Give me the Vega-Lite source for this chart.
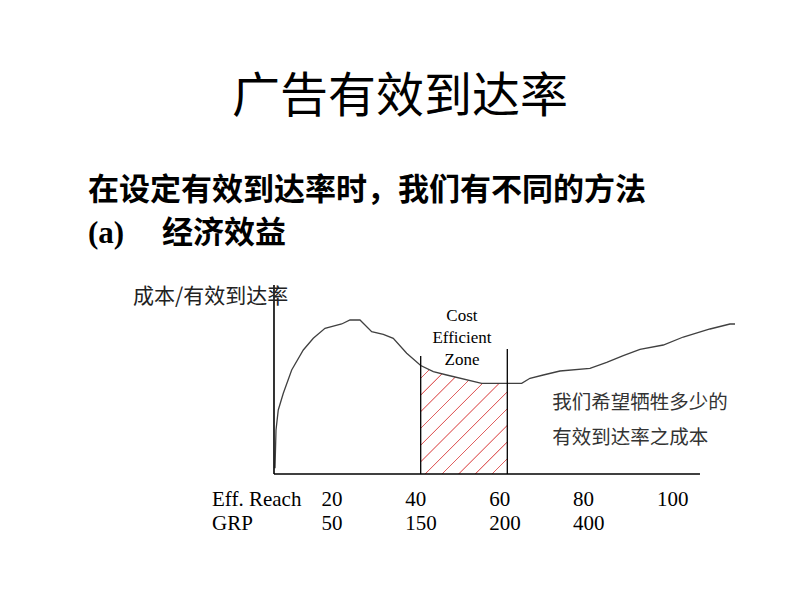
{
  "$schema": "https://vega.github.io/schema/vega-lite/v6.json",
  "width": 800,
  "height": 600,
  "autosize": "none",
  "padding": 0,
  "background": "white",
  "config": {"view": {"stroke": null}},
  "datasets": {
    "curve": [
      {"reach": 8.92, "cost": 3.8},
      {"reach": 9.16, "cost": 29.33},
      {"reach": 9.70, "cost": 42.67},
      {"reach": 10.90, "cost": 53.8},
      {"reach": 12.90, "cost": 69.33},
      {"reach": 15.67, "cost": 82.67},
      {"reach": 18.05, "cost": 90.47},
      {"reach": 20.84, "cost": 97.13},
      {"reach": 24.82, "cost": 100},
      {"reach": 26.80, "cost": 102.67},
      {"reach": 29.18, "cost": 102.67},
      {"reach": 31.97, "cost": 94.87},
      {"reach": 34.74, "cost": 93.13},
      {"reach": 37.12, "cost": 90.47},
      {"reach": 40.32, "cost": 80.47},
      {"reach": 43.66, "cost": 72.33},
      {"reach": 46.67, "cost": 68.2},
      {"reach": 49.86, "cost": 66},
      {"reach": 58.20, "cost": 60.47},
      {"reach": 64.31, "cost": 60.47},
      {"reach": 67.74, "cost": 60.47},
      {"reach": 69.72, "cost": 63.8},
      {"reach": 72.89, "cost": 66},
      {"reach": 76.87, "cost": 68.67},
      {"reach": 84.02, "cost": 70.47},
      {"reach": 88.01, "cost": 74.47},
      {"reach": 91.96, "cost": 78.87},
      {"reach": 95.95, "cost": 83.13},
      {"reach": 101.50, "cost": 86},
      {"reach": 106.27, "cost": 91.33},
      {"reach": 112.64, "cost": 96.67},
      {"reach": 117.4, "cost": 100},
      {"reach": 118.6, "cost": 100}
    ],
    "zone": [
      {"reach": 43.66, "base": 0, "top": 78.67},
      {"reach": 64.31, "base": 0, "top": 83.33}
    ],
    "frame": [
      {"reach": 8.68, "reach2": 110.25, "cost": 0, "cost2": 0},
      {"reach": 8.68, "reach2": 8.68, "cost": 0, "cost2": 126}
    ],
    "ticks": [
      {"reach": 20, "grp": 50},
      {"reach": 40, "grp": 150},
      {"reach": 60, "grp": 200},
      {"reach": 80, "grp": 400},
      {"reach": 100}
    ]
  },
  "layer": [
    {
      "data": {"name": "curve"},
      "transform": [{"filter": "datum.reach >= 43.6 && datum.reach <= 64.4"}],
      "mark": {
        "type": "area",
        "interpolate": "linear",
        "fill": {
          "gradient": "linear",
          "x1": 0, "y1": 0, "x2": 0.8767, "y2": 1.0984,
          "stops": [
            {"offset": 0, "color": "white"},
            {"offset": 0.0611, "color": "white"}, {"offset": 0.0641, "color": "#e06060"}, {"offset": 0.0671, "color": "#e06060"}, {"offset": 0.0701, "color": "white"},
            {"offset": 0.1467, "color": "white"}, {"offset": 0.1497, "color": "#e06060"}, {"offset": 0.1527, "color": "#e06060"}, {"offset": 0.1557, "color": "white"},
            {"offset": 0.2323, "color": "white"}, {"offset": 0.2353, "color": "#e06060"}, {"offset": 0.2383, "color": "#e06060"}, {"offset": 0.2413, "color": "white"},
            {"offset": 0.3179, "color": "white"}, {"offset": 0.3209, "color": "#e06060"}, {"offset": 0.3239, "color": "#e06060"}, {"offset": 0.3269, "color": "white"},
            {"offset": 0.4035, "color": "white"}, {"offset": 0.4065, "color": "#e06060"}, {"offset": 0.4095, "color": "#e06060"}, {"offset": 0.4125, "color": "white"},
            {"offset": 0.4891, "color": "white"}, {"offset": 0.4921, "color": "#e06060"}, {"offset": 0.4951, "color": "#e06060"}, {"offset": 0.4981, "color": "white"},
            {"offset": 0.5747, "color": "white"}, {"offset": 0.5777, "color": "#e06060"}, {"offset": 0.5807, "color": "#e06060"}, {"offset": 0.5837, "color": "white"},
            {"offset": 0.6603, "color": "white"}, {"offset": 0.6633, "color": "#e06060"}, {"offset": 0.6663, "color": "#e06060"}, {"offset": 0.6693, "color": "white"},
            {"offset": 0.7459, "color": "white"}, {"offset": 0.7489, "color": "#e06060"}, {"offset": 0.7519, "color": "#e06060"}, {"offset": 0.7549, "color": "white"},
            {"offset": 0.8315, "color": "white"}, {"offset": 0.8345, "color": "#e06060"}, {"offset": 0.8375, "color": "#e06060"}, {"offset": 0.8405, "color": "white"},
            {"offset": 0.9171, "color": "white"}, {"offset": 0.9201, "color": "#e06060"}, {"offset": 0.9231, "color": "#e06060"}, {"offset": 0.9261, "color": "white"},
            {"offset": 1, "color": "white"}
          ]
        }
      },
      "encoding": {
        "x": {"field": "reach", "type": "quantitative", "axis": null, "scale": {"domain": [-56.65, 134.1], "nice": false, "zero": false}},
        "y": {"field": "cost", "type": "quantitative", "axis": null, "scale": {"domain": [-84, 316], "nice": false, "zero": false}}
      }
    },
    {
      "data": {"name": "curve"},
      "mark": {"type": "line", "interpolate": "linear", "stroke": "#404040", "strokeWidth": 1.3},
      "encoding": {
        "x": {"field": "reach", "type": "quantitative", "axis": null},
        "y": {"field": "cost", "type": "quantitative", "axis": null}
      }
    },
    {
      "data": {"name": "zone"},
      "mark": {"type": "rule", "stroke": "black", "strokeWidth": 1.3},
      "encoding": {
        "x": {"field": "reach", "type": "quantitative", "axis": null},
        "y": {"field": "base", "type": "quantitative", "axis": null},
        "y2": {"field": "top"}
      }
    },
    {
      "data": {"name": "frame"},
      "mark": {"type": "rule", "stroke": "black", "strokeWidth": 1.6},
      "encoding": {
        "x": {"field": "reach", "type": "quantitative", "axis": null},
        "x2": {"field": "reach2"},
        "y": {"field": "cost", "type": "quantitative", "axis": null},
        "y2": {"field": "cost2"}
      }
    },
    {
      "data": {"values": [{"t": "广告有效到达率", "reach": 38.72, "cost": 241.33}]},
      "mark": {"type": "text", "font": "Noto Sans CJK SC", "fontSize": 48, "align": "center", "baseline": "alphabetic", "color": "black"},
      "encoding": {
        "x": {"field": "reach", "type": "quantitative", "axis": null},
        "y": {"field": "cost", "type": "quantitative", "axis": null},
        "text": {"field": "t", "type": "nominal"}
      }
    },
    {
      "data": {"values": [{"t": "在设定有效到达率时，我们有不同的方法", "reach": -35.67, "cost": 182.67}]},
      "mark": {"type": "text", "font": "Noto Sans CJK SC", "fontSize": 31, "fontWeight": "bold", "align": "left", "baseline": "alphabetic", "color": "black"},
      "encoding": {
        "x": {"field": "reach", "type": "quantitative", "axis": null},
        "y": {"field": "cost", "type": "quantitative", "axis": null},
        "text": {"field": "t", "type": "nominal"}
      }
    },
    {
      "data": {"values": [{"t": "(a)", "reach": -35.67, "cost": 154}]},
      "mark": {"type": "text", "font": "Liberation Serif", "fontSize": 31, "fontWeight": "bold", "align": "left", "baseline": "alphabetic", "color": "black"},
      "encoding": {
        "x": {"field": "reach", "type": "quantitative", "axis": null},
        "y": {"field": "cost", "type": "quantitative", "axis": null},
        "text": {"field": "t", "type": "nominal"}
      }
    },
    {
      "data": {"values": [{"t": "经济效益", "reach": -18.03, "cost": 154}]},
      "mark": {"type": "text", "font": "Noto Sans CJK SC", "fontSize": 31, "fontWeight": "bold", "align": "left", "baseline": "alphabetic", "color": "black"},
      "encoding": {
        "x": {"field": "reach", "type": "quantitative", "axis": null},
        "y": {"field": "cost", "type": "quantitative", "axis": null},
        "text": {"field": "t", "type": "nominal"}
      }
    },
    {
      "data": {"values": [{"t": "成本/有效到达率", "reach": -24.94, "cost": 114}]},
      "mark": {"type": "text", "font": "Noto Sans CJK SC", "fontSize": 21, "align": "left", "baseline": "alphabetic", "color": "#222222"},
      "encoding": {
        "x": {"field": "reach", "type": "quantitative", "axis": null},
        "y": {"field": "cost", "type": "quantitative", "axis": null},
        "text": {"field": "t", "type": "nominal"}
      }
    },
    {
      "data": {"values": [{"t": "Cost\nEfficient\nZone", "reach": 53.5, "cost": 101.67}]},
      "mark": {"type": "text", "font": "Liberation Serif", "fontSize": 17, "align": "center", "baseline": "alphabetic", "lineBreak": "\n", "lineHeight": 22, "color": "black"},
      "encoding": {
        "x": {"field": "reach", "type": "quantitative", "axis": null},
        "y": {"field": "cost", "type": "quantitative", "axis": null},
        "text": {"field": "t", "type": "nominal"}
      }
    },
    {
      "data": {"values": [{"t": "我们希望牺牲多少的\n有效到达率之成本", "reach": 75, "cost": 43.33}]},
      "mark": {"type": "text", "font": "Noto Sans CJK SC", "fontSize": 19.5, "align": "left", "baseline": "alphabetic", "lineBreak": "\n", "lineHeight": 35, "color": "#333333"},
      "encoding": {
        "x": {"field": "reach", "type": "quantitative", "axis": null},
        "y": {"field": "cost", "type": "quantitative", "axis": null},
        "text": {"field": "t", "type": "nominal"}
      }
    },
    {
      "data": {"name": "ticks"},
      "mark": {"type": "text", "font": "Liberation Serif", "fontSize": 21, "align": "left", "baseline": "alphabetic", "color": "black"},
      "encoding": {
        "x": {"field": "reach", "type": "quantitative", "axis": null},
        "y": {"datum": -21.33, "type": "quantitative", "axis": null},
        "text": {"field": "reach", "type": "quantitative"}
      }
    },
    {
      "data": {"name": "ticks"},
      "transform": [{"filter": "isValid(datum.grp)"}],
      "mark": {"type": "text", "font": "Liberation Serif", "fontSize": 21, "align": "left", "baseline": "alphabetic", "color": "black"},
      "encoding": {
        "x": {"field": "reach", "type": "quantitative", "axis": null},
        "y": {"datum": -37.33, "type": "quantitative", "axis": null},
        "text": {"field": "grp", "type": "quantitative"}
      }
    },
    {
      "data": {"values": [{"t": "Eff. Reach", "reach": -6.1, "cost": -21.33}, {"t": "GRP", "reach": -6.1, "cost": -37.33}]},
      "mark": {"type": "text", "font": "Liberation Serif", "fontSize": 21, "align": "left", "baseline": "alphabetic", "color": "black"},
      "encoding": {
        "x": {"field": "reach", "type": "quantitative", "axis": null},
        "y": {"field": "cost", "type": "quantitative", "axis": null},
        "text": {"field": "t", "type": "nominal"}
      }
    }
  ]
}
